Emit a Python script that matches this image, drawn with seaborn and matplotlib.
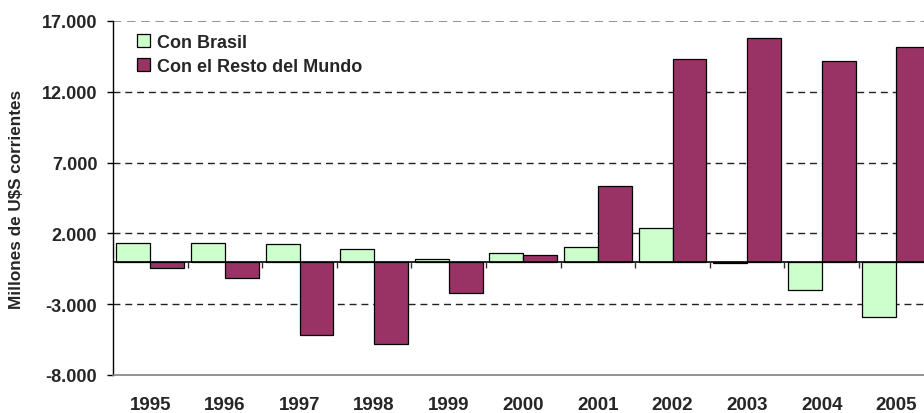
import numpy as np
import pandas as pd
import matplotlib.pyplot as plt
import matplotlib.ticker as mticker
import seaborn as sns

years = ['1995', '1996', '1997', '1998', '1999', '2000', '2001', '2002', '2003', '2004', '2005']
con_brasil = [1340, 1340, 1240, 920, 160, 590, 1010, 2370, -100, -1980, -3910]
con_resto = [-420, -1180, -5180, -5840, -2220, 490, 5340, 14340, 15770, 14200, 15180]
series = ['Con Brasil', 'Con el Resto del Mundo']
colores = ['#CCFFCC', '#993366']
yticks = [-8000, -3000, 2000, 7000, 12000, 17000]

df = pd.DataFrame({'anio': years * 2,
                   'valor': con_brasil + con_resto,
                   'serie': [series[0]] * len(years) + [series[1]] * len(years)})

sns.set_style('white')
plt.rcParams['font.family'] = ['Liberation Sans', 'DejaVu Sans']
plt.rcParams['font.weight'] = 'bold'

fig = plt.figure(figsize=(9.24, 4.14), dpi=100)
ax = fig.add_axes([113 / 924, 1 - 376 / 414, 820.6 / 924, 354 / 414])

sns.barplot(data=df, x='anio', y='valor', hue='serie', palette=colores,
            width=0.91, saturation=1, edgecolor='black', linewidth=0.9,
            ax=ax, zorder=2)

ax.set_xlim(-0.5, len(years) - 0.5)
ax.set_ylim(yticks[0], yticks[-1])
ax.set_yticks(yticks)
ax.yaxis.set_major_formatter(mticker.FuncFormatter(lambda v, p: f'{int(v):,}'.replace(',', '.')))

# dashed gridlines (top one gray, like the plot-area border)
for v in yticks[1:-1]:
    ax.axhline(v, color='#222222', linestyle=(0, (5, 3.5)), linewidth=1, zorder=1)
ax.axhline(yticks[-1], color='#808080', linestyle=(0, (5, 3.5)), linewidth=1.2, zorder=1)

# zero line and small category separators
ax.axhline(0, color='black', linewidth=1.2, zorder=3)
ax.vlines(np.arange(len(years) - 1) + 0.5, -450, 0, color='#333333', linewidth=1, zorder=3)

for s in ['top', 'right']:
    ax.spines[s].set_visible(False)
ax.spines['left'].set_color('black')
ax.spines['left'].set_linewidth(1)
ax.spines['bottom'].set_color('#808080')
ax.spines['bottom'].set_linewidth(1.2)

ax.tick_params(axis='y', which='major', left=True, length=4.3, width=1, pad=7,
               labelsize=13, color='black')
ax.tick_params(axis='x', length=0, pad=15, labelsize=13.5)
for t in ax.get_xticklabels() + ax.get_yticklabels():
    t.set_fontweight('bold')

ax.set_xlabel('')
ax.set_ylabel('Millones de U$S corrientes', fontsize=12.3, fontweight='bold')
ax.yaxis.set_label_coords(-0.108, 0.5)

ax.legend(loc='upper left', bbox_to_anchor=(0.02, 0.985), frameon=False,
          prop={'weight': 'bold', 'size': 13}, handlelength=0.75, handleheight=0.75,
          handletextpad=0.4, labelspacing=0.4, borderaxespad=0)

fig.savefig('out.png', dpi=100)
